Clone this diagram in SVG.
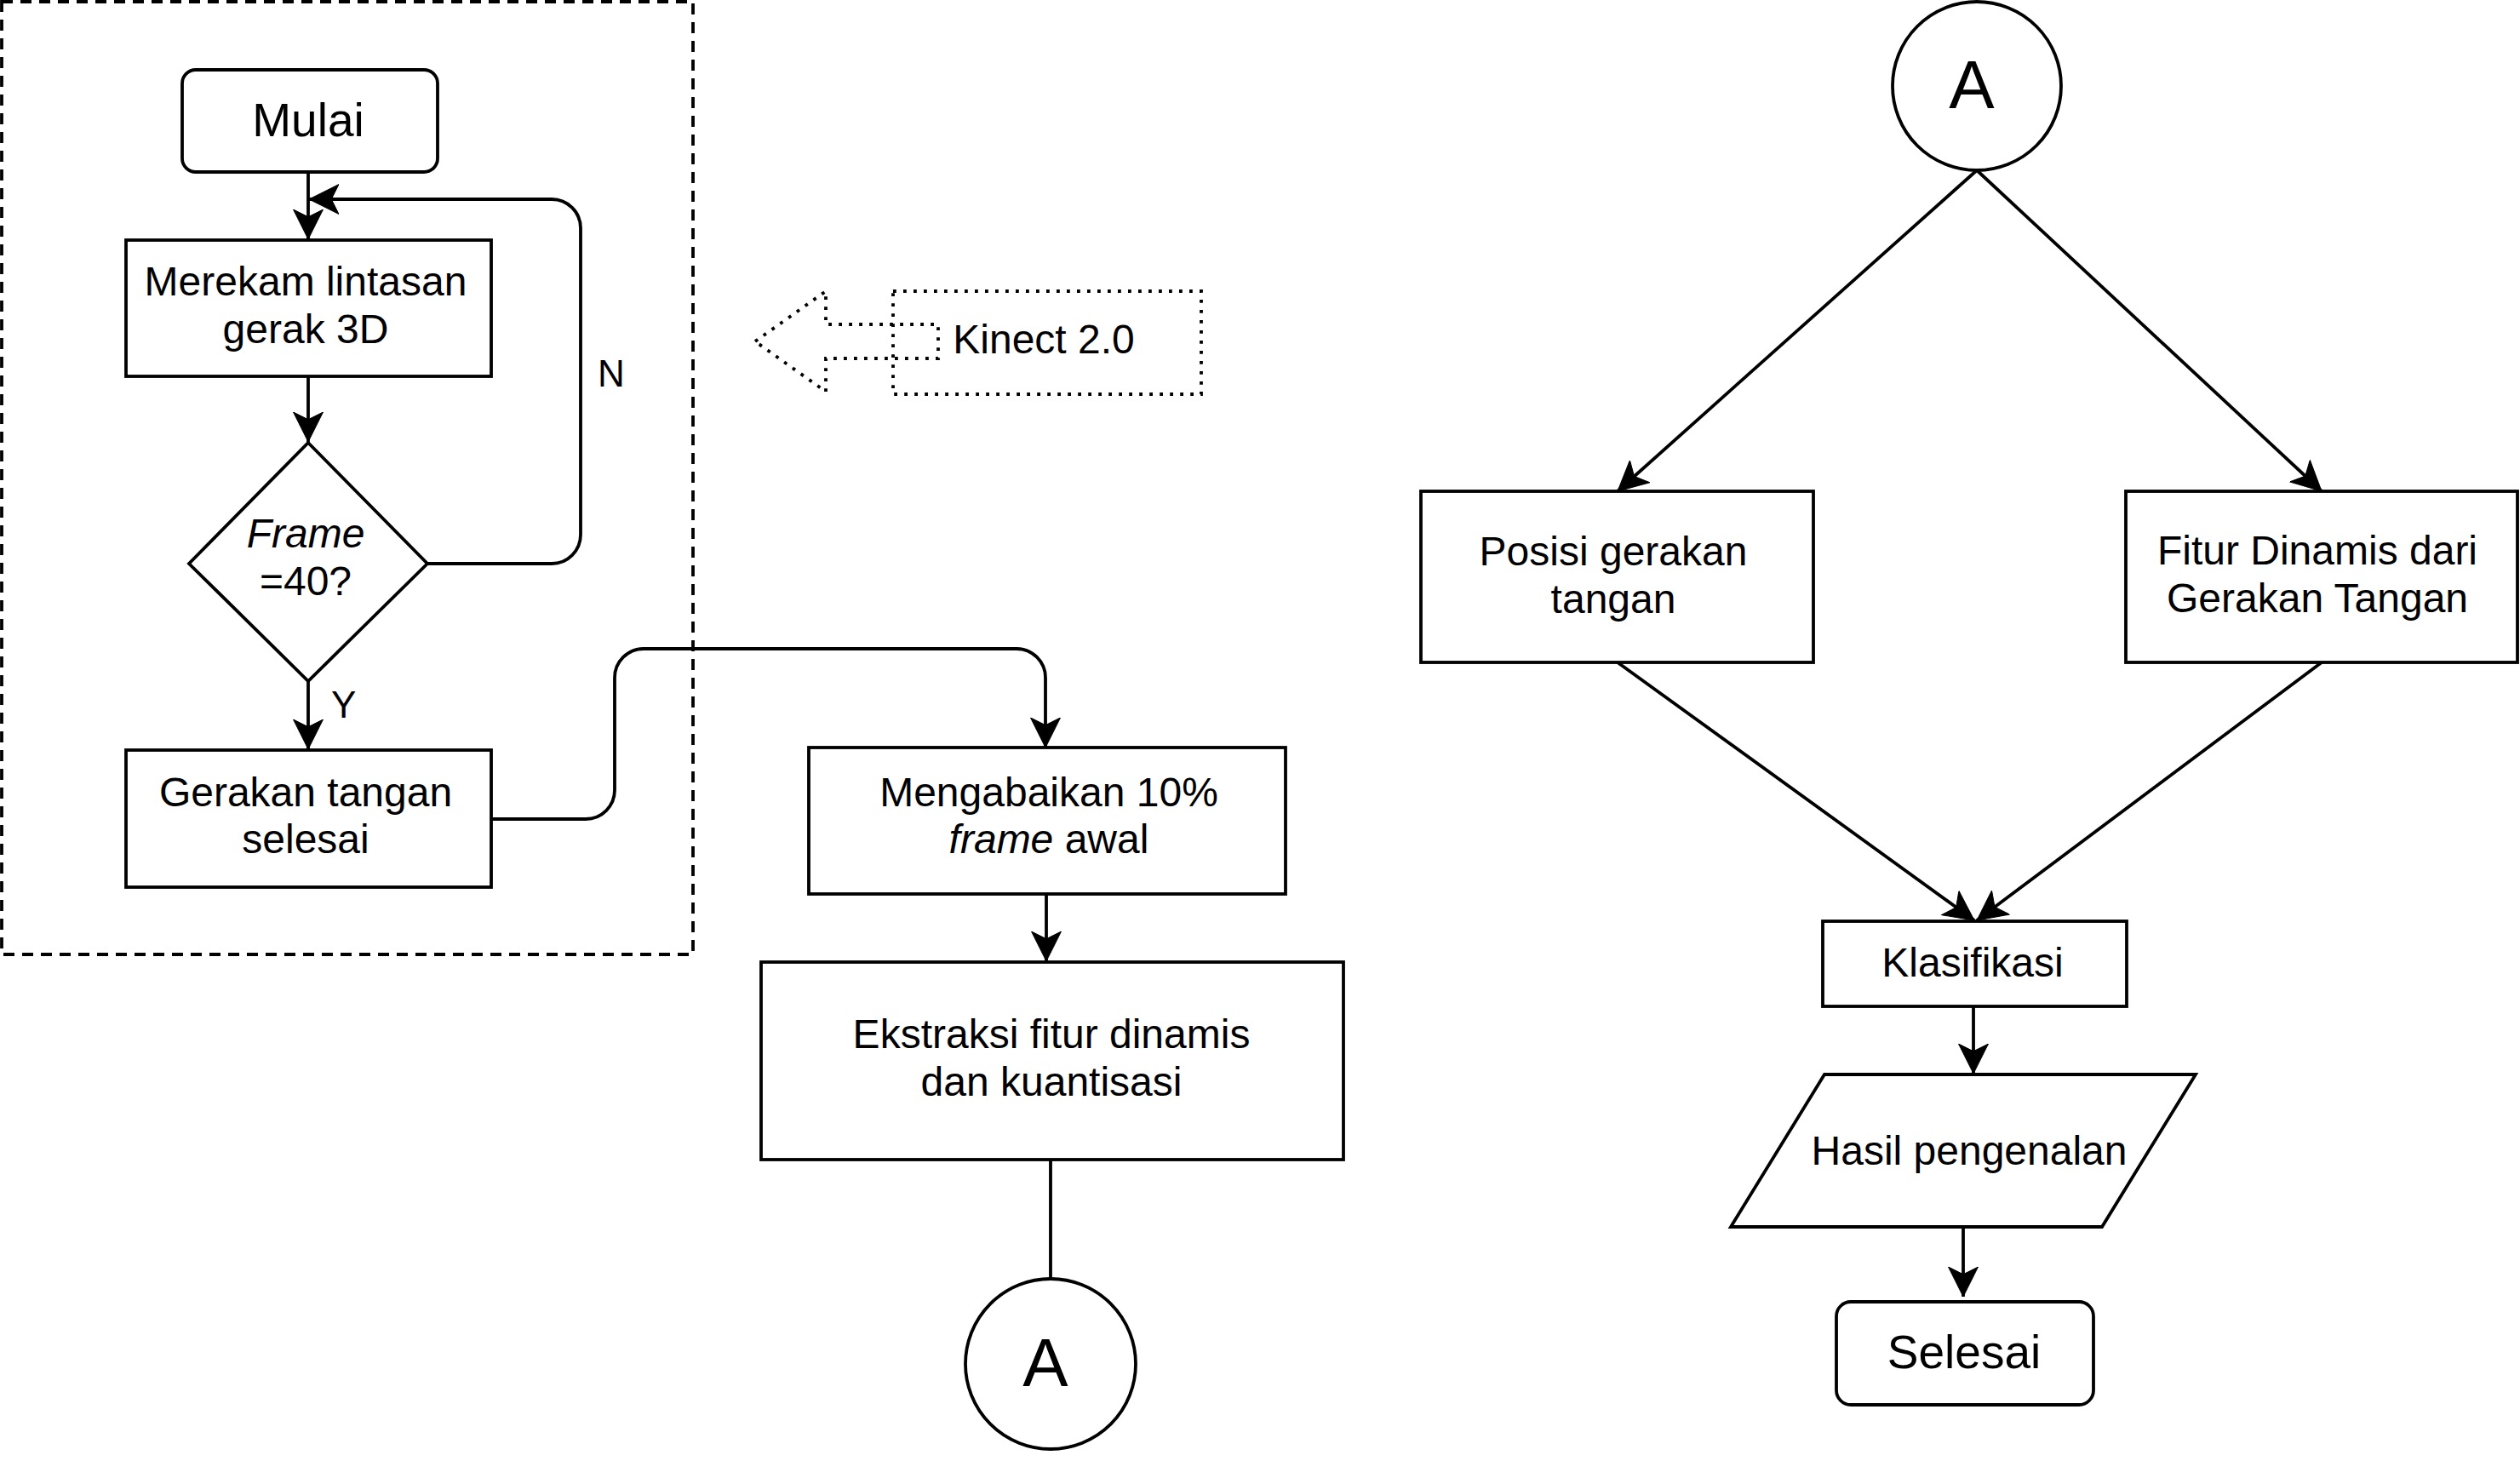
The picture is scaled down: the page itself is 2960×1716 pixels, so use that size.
<svg xmlns="http://www.w3.org/2000/svg" width="2960" height="1716" viewBox="0 0 2960 1716">
  <style>
    .shape { fill: #fff; stroke: #000; stroke-width: 3.8; }
    .line { fill: none; stroke: #000; stroke-width: 3.8; }
    .arrow { marker-end: url(#arr); }
    .t { font-family: "Liberation Sans", Arial, sans-serif; font-size: 48px; fill: #000; text-anchor: middle; }
    .big { font-size: 55px; }
    .circ { font-size: 80px; }
    .lbl { font-size: 44px; text-anchor: start; }
    .it { font-style: italic; }
    .dash { fill: none; stroke: #000; stroke-width: 3.8; stroke-dasharray: 13 9; }
    .dot { fill: none; stroke: #000; stroke-width: 3.8; stroke-dasharray: 3.8 8.2; }
  </style>
  <defs>
    <marker id="arr" markerUnits="userSpaceOnUse" viewBox="0 0 36 36" refX="35" refY="18" markerWidth="36" markerHeight="36" orient="auto">
      <path d="M35,18 L0,0.5 L8.75,18 L0,35.5 Z" fill="#000" stroke="#000" stroke-width="1"/>
    </marker>
  </defs>
  <rect width="2960" height="1716" fill="#fff"/>

  <g id="group-acquisition">
    <rect class="dash" x="2" y="2" width="812" height="1119"/>
  </g>

  <g id="connectors">
    <path class="line arrow" d="M362,202 L362,281"/>
    <path class="line arrow" d="M502,662 L648,662 A34,34 0 0 0 682,628 L682,268 A34,34 0 0 0 648,234 L363,234"/>
    <path class="line arrow" d="M362,442 L362,519"/>
    <path class="line arrow" d="M362,800 L362,880"/>
    <path class="line arrow" d="M577,962 L688,962 A34,34 0 0 0 722,928 L722,796 A34,34 0 0 1 756,762 L1194,762 A34,34 0 0 1 1228,796 L1228,878"/>
    <path class="line arrow" d="M1229,1050 L1229,1129"/>
    <path class="line" d="M1234,1362 L1234,1502"/>
    <path class="line arrow" d="M2322,200 L1900,577"/>
    <path class="line arrow" d="M2322,200 L2727,577"/>
    <path class="line arrow" d="M1900,778 L2319,1081"/>
    <path class="line arrow" d="M2727,778 L2322,1081"/>
    <path class="line arrow" d="M2318,1182 L2318,1261"/>
    <path class="line arrow" d="M2306,1441 L2306,1523"/>
    <text class="t lbl" x="702" y="454">N</text>
    <text class="t lbl" x="389" y="843">Y</text>
  </g>

  <g id="mulai">
    <rect class="shape" x="214" y="82" width="300" height="120" rx="16" ry="16"/>
    <text class="t big" x="362" y="160">Mulai</text>
  </g>

  <g id="merekam">
    <rect class="shape" x="148" y="282" width="429" height="160"/>
    <text class="t" x="359" y="347">Merekam lintasan</text>
    <text class="t" x="359" y="403">gerak 3D</text>
  </g>

  <g id="decision-frame">
    <polygon class="shape" points="362,520 502,662 362,800 222,662"/>
    <text class="t it" x="359" y="643">Frame</text>
    <text class="t" x="359" y="699">=40?</text>
  </g>

  <g id="gerakan-selesai">
    <rect class="shape" x="148" y="881" width="429" height="161"/>
    <text class="t" x="359" y="947">Gerakan tangan</text>
    <text class="t" x="359" y="1002">selesai</text>
  </g>

  <g id="kinect-arrow">
    <polygon class="dot" points="887,401 970,342 970,381 1102,381 1102,421 970,421 970,460"/>
  </g>

  <g id="kinect">
    <rect class="dot" x="1049" y="342" width="362" height="121"/>
    <text class="t" x="1226" y="415">Kinect 2.0</text>
  </g>

  <g id="mengabaikan">
    <rect class="shape" x="950" y="878" width="560" height="172"/>
    <text class="t" x="1232" y="947">Mengabaikan 10%</text>
    <text class="t" x="1232" y="1002"><tspan class="it">frame</tspan> awal</text>
  </g>

  <g id="ekstraksi">
    <rect class="shape" x="894" y="1130" width="684" height="232"/>
    <text class="t" x="1235" y="1231">Ekstraksi fitur dinamis</text>
    <text class="t" x="1235" y="1287">dan kuantisasi</text>
  </g>

  <g id="connector-a-out">
    <circle class="shape" cx="1234" cy="1602" r="100"/>
    <text class="t circ" x="1228" y="1628">A</text>
  </g>

  <g id="connector-a-in">
    <circle class="shape" cx="2322" cy="101" r="99"/>
    <text class="t circ" x="2316" y="127">A</text>
  </g>

  <g id="posisi">
    <rect class="shape" x="1669" y="577" width="461" height="201"/>
    <text class="t" x="1895" y="664">Posisi gerakan</text>
    <text class="t" x="1895" y="720">tangan</text>
  </g>

  <g id="fitur">
    <rect class="shape" x="2497" y="577" width="460" height="201"/>
    <text class="t" x="2722" y="663">Fitur Dinamis dari</text>
    <text class="t" x="2722" y="719">Gerakan Tangan</text>
  </g>

  <g id="klasifikasi">
    <rect class="shape" x="2141" y="1082" width="357" height="100"/>
    <text class="t" x="2317" y="1147">Klasifikasi</text>
  </g>

  <g id="hasil">
    <polygon class="shape" points="2143,1262 2579,1262 2469,1441 2033,1441"/>
    <text class="t" x="2313" y="1368">Hasil pengenalan</text>
  </g>

  <g id="selesai">
    <rect class="shape" x="2157" y="1529" width="302" height="121" rx="17" ry="17"/>
    <text class="t big" x="2307" y="1607">Selesai</text>
  </g>
</svg>
